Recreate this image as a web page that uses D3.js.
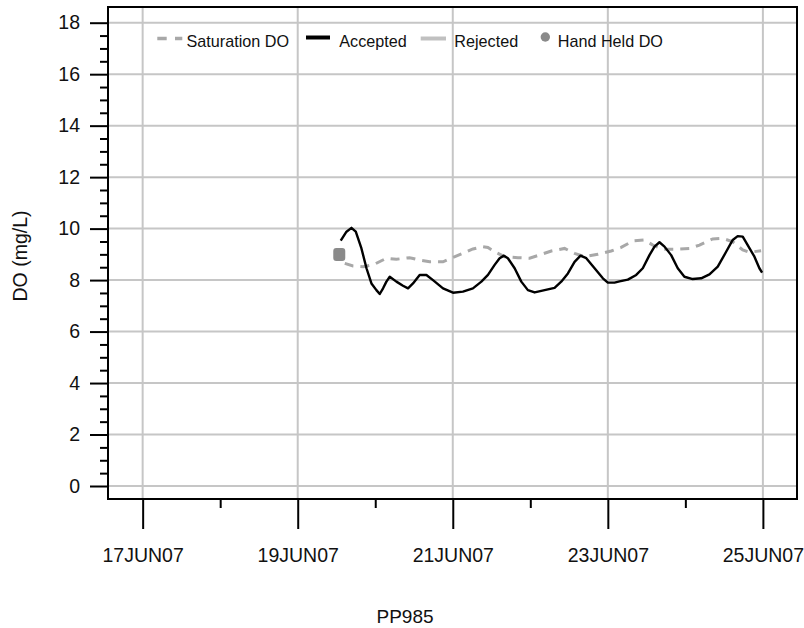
<!DOCTYPE html>
<html>
<head>
<meta charset="utf-8">
<script src="https://cdn.jsdelivr.net/npm/d3@7"></script>
<style>
  html, body { margin: 0; padding: 0; background: #fff; }
  svg { display: block; font-family: "Liberation Sans", Arial, sans-serif; }
</style>
</head>
<body>
<svg id="chart" width="804" height="628"></svg>
<script>
// ---- data (day of June 2007, DO mg/L) ----
const acceptedDays = [19.555,19.629,19.693,19.749,19.822,19.887,19.951,20.015,20.058,20.101,20.144,20.187,20.273,20.358,20.423,20.487,20.573,20.660,20.745,20.874,21.003,21.131,21.260,21.369,21.454,21.540,21.604,21.660,21.711,21.798,21.884,21.969,22.056,22.142,22.313,22.399,22.485,22.571,22.648,22.722,22.829,22.936,23.000,23.086,23.151,23.258,23.366,23.451,23.537,23.602,23.666,23.731,23.817,23.902,23.988,24.095,24.204,24.311,24.418,24.526,24.611,24.675,24.740,24.804,24.891,24.955,24.990];
const acceptedDO   = [9.53,9.88,10.03,9.88,9.23,8.46,7.87,7.61,7.46,7.68,7.94,8.13,7.94,7.78,7.68,7.87,8.20,8.20,8.00,7.68,7.51,7.55,7.68,7.94,8.20,8.59,8.85,8.95,8.85,8.46,7.94,7.61,7.52,7.58,7.70,7.94,8.26,8.71,8.95,8.85,8.46,8.07,7.90,7.90,7.95,8.02,8.20,8.46,8.97,9.30,9.47,9.30,8.97,8.46,8.13,8.04,8.07,8.22,8.52,9.10,9.56,9.71,9.69,9.36,8.91,8.46,8.29];

const satDays = [19.607,19.714,19.843,19.972,20.144,20.273,20.444,20.573,20.702,20.874,21.003,21.131,21.260,21.390,21.454,21.540,21.669,21.840,21.991,22.142,22.271,22.442,22.571,22.700,22.871,23.043,23.172,23.322,23.473,23.580,23.709,23.881,24.053,24.182,24.353,24.482,24.611,24.740,24.826,24.977];
const satDO   = [8.65,8.55,8.52,8.59,8.85,8.81,8.87,8.78,8.71,8.71,8.88,9.04,9.21,9.30,9.27,9.10,8.91,8.87,8.85,9.00,9.13,9.23,9.04,8.91,9.00,9.13,9.27,9.52,9.56,9.36,9.20,9.20,9.23,9.36,9.60,9.62,9.49,9.17,9.08,9.14];

const handDays = [19.536];
const handDO   = [8.99];

const xTickDays   = [17, 19, 21, 23, 25];
const xTickLabels = ["17JUN07", "19JUN07", "21JUN07", "23JUN07", "25JUN07"];
const xMinorDays  = [18, 20, 22, 24];
const yTicks      = [0, 2, 4, 6, 8, 10, 12, 14, 16, 18];

const legendLabels = ["Saturation DO", "Accepted", "Rejected", "Hand Held DO"];
const xTitle = "PP985";
const yTitle = "DO (mg/L)";

// ---- layout ----
const L = 108, R = 797, T = 7, B = 499;
const svg = d3.select("#chart");

const x = d3.scaleLinear().domain([16.553, 25.44]).range([L, R]);
const y = d3.scaleLinear().domain([-0.505, 18.61]).range([B, T]);

const gridColor = "#c6c6c6";

// gridlines
svg.append("g").selectAll("line").data(yTicks).join("line")
  .attr("x1", L).attr("x2", R)
  .attr("y1", d => y(d)).attr("y2", d => y(d))
  .attr("stroke", gridColor).attr("stroke-width", 2);
svg.append("g").selectAll("line").data(xTickDays).join("line")
  .attr("x1", d => x(d)).attr("x2", d => x(d))
  .attr("y1", T).attr("y2", B)
  .attr("stroke", gridColor).attr("stroke-width", 2);

// y axis major
const yAxis = svg.append("g").attr("transform", `translate(${L},0)`)
  .call(d3.axisLeft(y).tickValues(yTicks).tickSize(18).tickPadding(10).tickFormat(d3.format("d")));
yAxis.select(".domain").remove();
yAxis.selectAll(".tick line").attr("stroke", "#000").attr("stroke-width", 2);
yAxis.selectAll(".tick text").attr("font-size", 19.5).attr("fill", "#111")
  .attr("font-family", "Liberation Sans, Arial, sans-serif");

// y axis minor
const yMinor = d3.range(0, 18.01, 0.5).filter(v => v % 2 !== 0);
const yAxisMinor = svg.append("g").attr("transform", `translate(${L},0)`)
  .call(d3.axisLeft(y).tickValues(yMinor).tickSize(8).tickFormat(""));
yAxisMinor.select(".domain").remove();
yAxisMinor.selectAll(".tick line").attr("stroke", "#000").attr("stroke-width", 2);

// x axis major
const xAxis = svg.append("g").attr("transform", `translate(0,${B})`)
  .call(d3.axisBottom(x).tickValues(xTickDays).tickSize(30)
    .tickFormat((d, i) => xTickLabels[i]));
xAxis.select(".domain").remove();
xAxis.selectAll(".tick line").attr("stroke", "#000").attr("stroke-width", 2);
xAxis.selectAll(".tick text")
  .attr("y", 63).attr("dy", 0)
  .attr("font-size", 19.5).attr("fill", "#111")
  .attr("font-family", "Liberation Sans, Arial, sans-serif");

// x axis minor
const xAxisMinor = svg.append("g").attr("transform", `translate(0,${B})`)
  .call(d3.axisBottom(x).tickValues(xMinorDays).tickSize(9).tickFormat(""));
xAxisMinor.select(".domain").remove();
xAxisMinor.selectAll(".tick line").attr("stroke", "#000").attr("stroke-width", 2);

// frame
svg.append("rect")
  .attr("x", L).attr("y", T).attr("width", R - L).attr("height", B - T)
  .attr("fill", "none").attr("stroke", "#000").attr("stroke-width", 2);

// saturation DO (dashed)
const satData = satDays.map((d, i) => [d, satDO[i]]);
svg.append("path").datum(satData)
  .attr("d", d3.line().x(d => x(d[0])).y(d => y(d[1])))
  .attr("fill", "none").attr("stroke", "#a8a8a8").attr("stroke-width", 3)
  .attr("stroke-dasharray", "9,7");

// accepted
const accData = acceptedDays.map((d, i) => [d, acceptedDO[i]]);
svg.append("path").datum(accData)
  .attr("d", d3.line().x(d => x(d[0])).y(d => y(d[1])))
  .attr("fill", "none").attr("stroke", "#000").attr("stroke-width", 2.4)
  .attr("stroke-linejoin", "round");

// hand held
svg.append("g").selectAll("rect").data(handDays.map((d, i) => [d, handDO[i]])).join("rect")
  .attr("x", d => x(d[0]) - 6).attr("y", d => y(d[1]) - 6.5)
  .attr("width", 12).attr("height", 13).attr("rx", 3)
  .attr("fill", "#8a8a8a");

// legend
const lg = svg.append("g").attr("font-size", 16.2).attr("fill", "#111");
const ly = 38.5, lt = 46.5;
lg.append("line").attr("x1", 157.3).attr("x2", 182.3).attr("y1", ly).attr("y2", ly)
  .attr("stroke", "#a8a8a8").attr("stroke-width", 3.5).attr("stroke-dasharray", "9.4,8.3");
lg.append("text").attr("x", 186.5).attr("y", lt).text(legendLabels[0]);
lg.append("line").attr("x1", 306).attr("x2", 330).attr("y1", 37.5).attr("y2", 37.5)
  .attr("stroke", "#000").attr("stroke-width", 4);
lg.append("text").attr("x", 339.3).attr("y", lt).text(legendLabels[1]);
lg.append("line").attr("x1", 420.7).attr("x2", 446).attr("y1", ly).attr("y2", ly)
  .attr("stroke", "#c0c0c0").attr("stroke-width", 4);
lg.append("text").attr("x", 454.3).attr("y", lt).text(legendLabels[2]);
lg.append("circle").attr("cx", 545.3).attr("cy", 37).attr("r", 4.7).attr("fill", "#8a8a8a");
lg.append("text").attr("x", 557.7).attr("y", lt).text(legendLabels[3]);

// titles
svg.append("text").attr("x", 405).attr("y", 622.5).attr("text-anchor", "middle")
  .attr("font-size", 19).attr("fill", "#111").text(xTitle);
svg.append("text").attr("transform", "translate(26.5,256) rotate(-90)")
  .attr("text-anchor", "middle").attr("font-size", 19.5).attr("fill", "#111").text(yTitle);
</script>
</body>
</html>
